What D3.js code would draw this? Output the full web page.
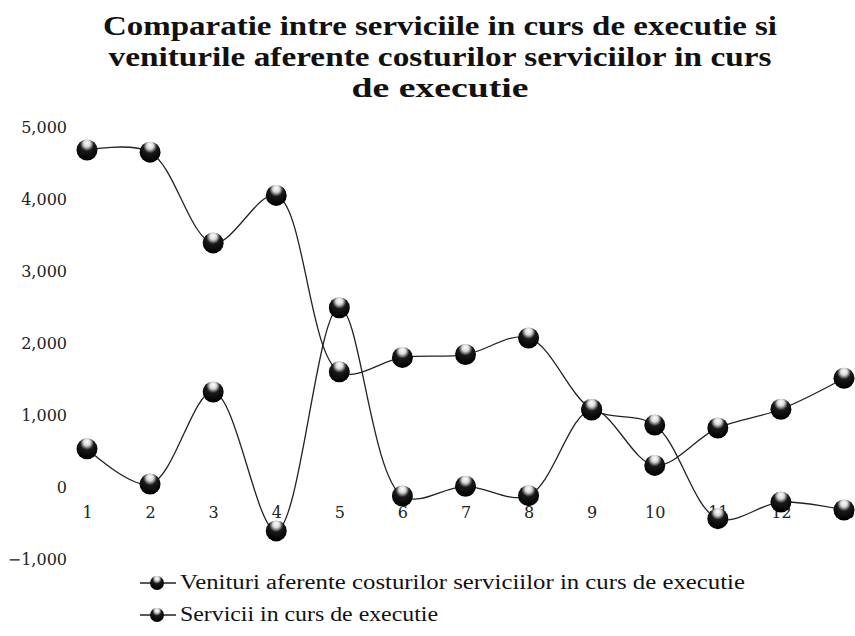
<!DOCTYPE html>
<html>
<head>
<meta charset="utf-8">
<script src="https://cdn.jsdelivr.net/npm/d3@7"></script>
<style>
  html, body { margin: 0; padding: 0; background: #fff; }
  svg { display: block; }
</style>
</head>
<body>
<div id="chart"></div>
<script>
// date
var luni = [1, 2, 3, 4, 5, 6, 7, 8, 9, 10, 11, 12, 13];
var venituri = [530, 40, 1320, -610, 2490, -125, 10, -120, 1070, 300, 820, 1080, 1510];
var servicii = [4680, 4650, 3390, 4050, 1600, 1800, 1840, 2070, 1080, 860, -440, -210, -320];
var yTicks = [-1000, 0, 1000, 2000, 3000, 4000, 5000];
var titlu = [
  "Comparatie intre serviciile in curs de executie si",
  "veniturile aferente costurilor serviciilor in curs",
  "de executie"
];
var legenda = [
  "Venituri aferente costurilor serviciilor in curs de executie",
  "Servicii in curs de executie"
];

(function(d3){

  var W = 855, H = 636;

  var svg = d3.select("#chart").append("svg")
      .attr("width", W)
      .attr("height", H);

  svg.append("rect").attr("width", W).attr("height", H).attr("fill", "#fff");

  // gradient pentru markerii "sfera" (negru cu reflexie alba sus)
  var grad = svg.append("defs").append("radialGradient")
      .attr("id", "sfera")
      .attr("cx", "50%").attr("cy", "30%").attr("r", "65%")
      .attr("fx", "50%").attr("fy", "15%");
  grad.append("stop").attr("offset", "0%").attr("stop-color", "#ffffff");
  grad.append("stop").attr("offset", "25%").attr("stop-color", "#d8d8d8");
  grad.append("stop").attr("offset", "50%").attr("stop-color", "#1a1a1a");
  grad.append("stop").attr("offset", "100%").attr("stop-color", "#000");

  // titlu
  var tw = [674, 663, 177];
  svg.append("g").selectAll("text")
      .data(titlu)
      .enter().append("text")
      .attr("x", 440)
      .attr("y", function(d, i){ return 35 + i * 31; })
      .attr("text-anchor", "middle")
      .attr("textLength", function(d, i){ return tw[i]; })
      .attr("lengthAdjust", "spacingAndGlyphs")
      .style("font-family", "'Liberation Serif', serif")
      .style("font-weight", "bold")
      .style("font-size", "27px")
      .style("fill", "#111")
      .text(function(d){ return d; });

  // scale
  var x = d3.scalePoint().domain(luni).range([87, 844]);
  var y = d3.scaleLinear().domain([-1000, 5000]).range([559, 127]);

  // axa y (doar etichete)
  var yAxis = svg.append("g")
      .attr("transform", "translate(67,0)")
      .call(d3.axisLeft(y).tickValues(yTicks).tickFormat(d3.format(",")).tickSize(0).tickPadding(0));
  yAxis.select(".domain").remove();
  yAxis.selectAll("text")
      .attr("dy", "0.35em")
      .style("font-family", "'DejaVu Serif', serif")
      .style("font-size", "16px")
      .style("fill", "#222");

  // axa x la nivelul lui 0
  var xAxis = svg.append("g")
      .attr("transform", "translate(0," + y(0) + ")")
      .call(d3.axisBottom(x).tickSize(0).tickPadding(20));
  xAxis.select(".domain").remove();
  xAxis.selectAll("text")
      .style("font-family", "'DejaVu Serif', serif")
      .style("font-size", "16px")
      .style("fill", "#222");

  var linie = d3.line()
      .x(function(d, i){ return x(luni[i]); })
      .y(function(d){ return y(d); })
      .curve(d3.curveCatmullRom.alpha(0.5));

  function deseneazaSerie(vals){
    var g = svg.append("g");
    g.append("path")
        .attr("d", linie(vals))
        .attr("fill", "none")
        .attr("stroke", "#222")
        .attr("stroke-width", 1.3);
    g.selectAll("circle")
        .data(vals)
        .enter().append("circle")
        .attr("cx", function(d, i){ return x(luni[i]); })
        .attr("cy", function(d){ return y(d); })
        .attr("r", 10.5)
        .attr("fill", "url(#sfera)");
  }

  deseneazaSerie(servicii);
  deseneazaSerie(venituri);

  // legenda
  var leg = svg.append("g").selectAll("g")
      .data(legenda)
      .enter().append("g")
      .attr("transform", function(d, i){ return "translate(140," + (583 + i * 32) + ")"; });
  leg.append("line")
      .attr("x1", 0).attr("x2", 36)
      .attr("stroke", "#222").attr("stroke-width", 1.5);
  leg.append("circle")
      .attr("cx", 17).attr("r", 7)
      .attr("fill", "url(#sfera)");
  leg.append("text")
      .attr("x", 40)
      .attr("y", 6)
      .attr("textLength", function(d, i){ return i === 0 ? 565 : 258; })
      .attr("lengthAdjust", "spacingAndGlyphs")
      .style("font-family", "'Liberation Serif', serif")
      .style("font-size", "20px")
      .style("fill", "#111")
      .text(function(d){ return d; });

})(d3);
</script>
</body>
</html>
